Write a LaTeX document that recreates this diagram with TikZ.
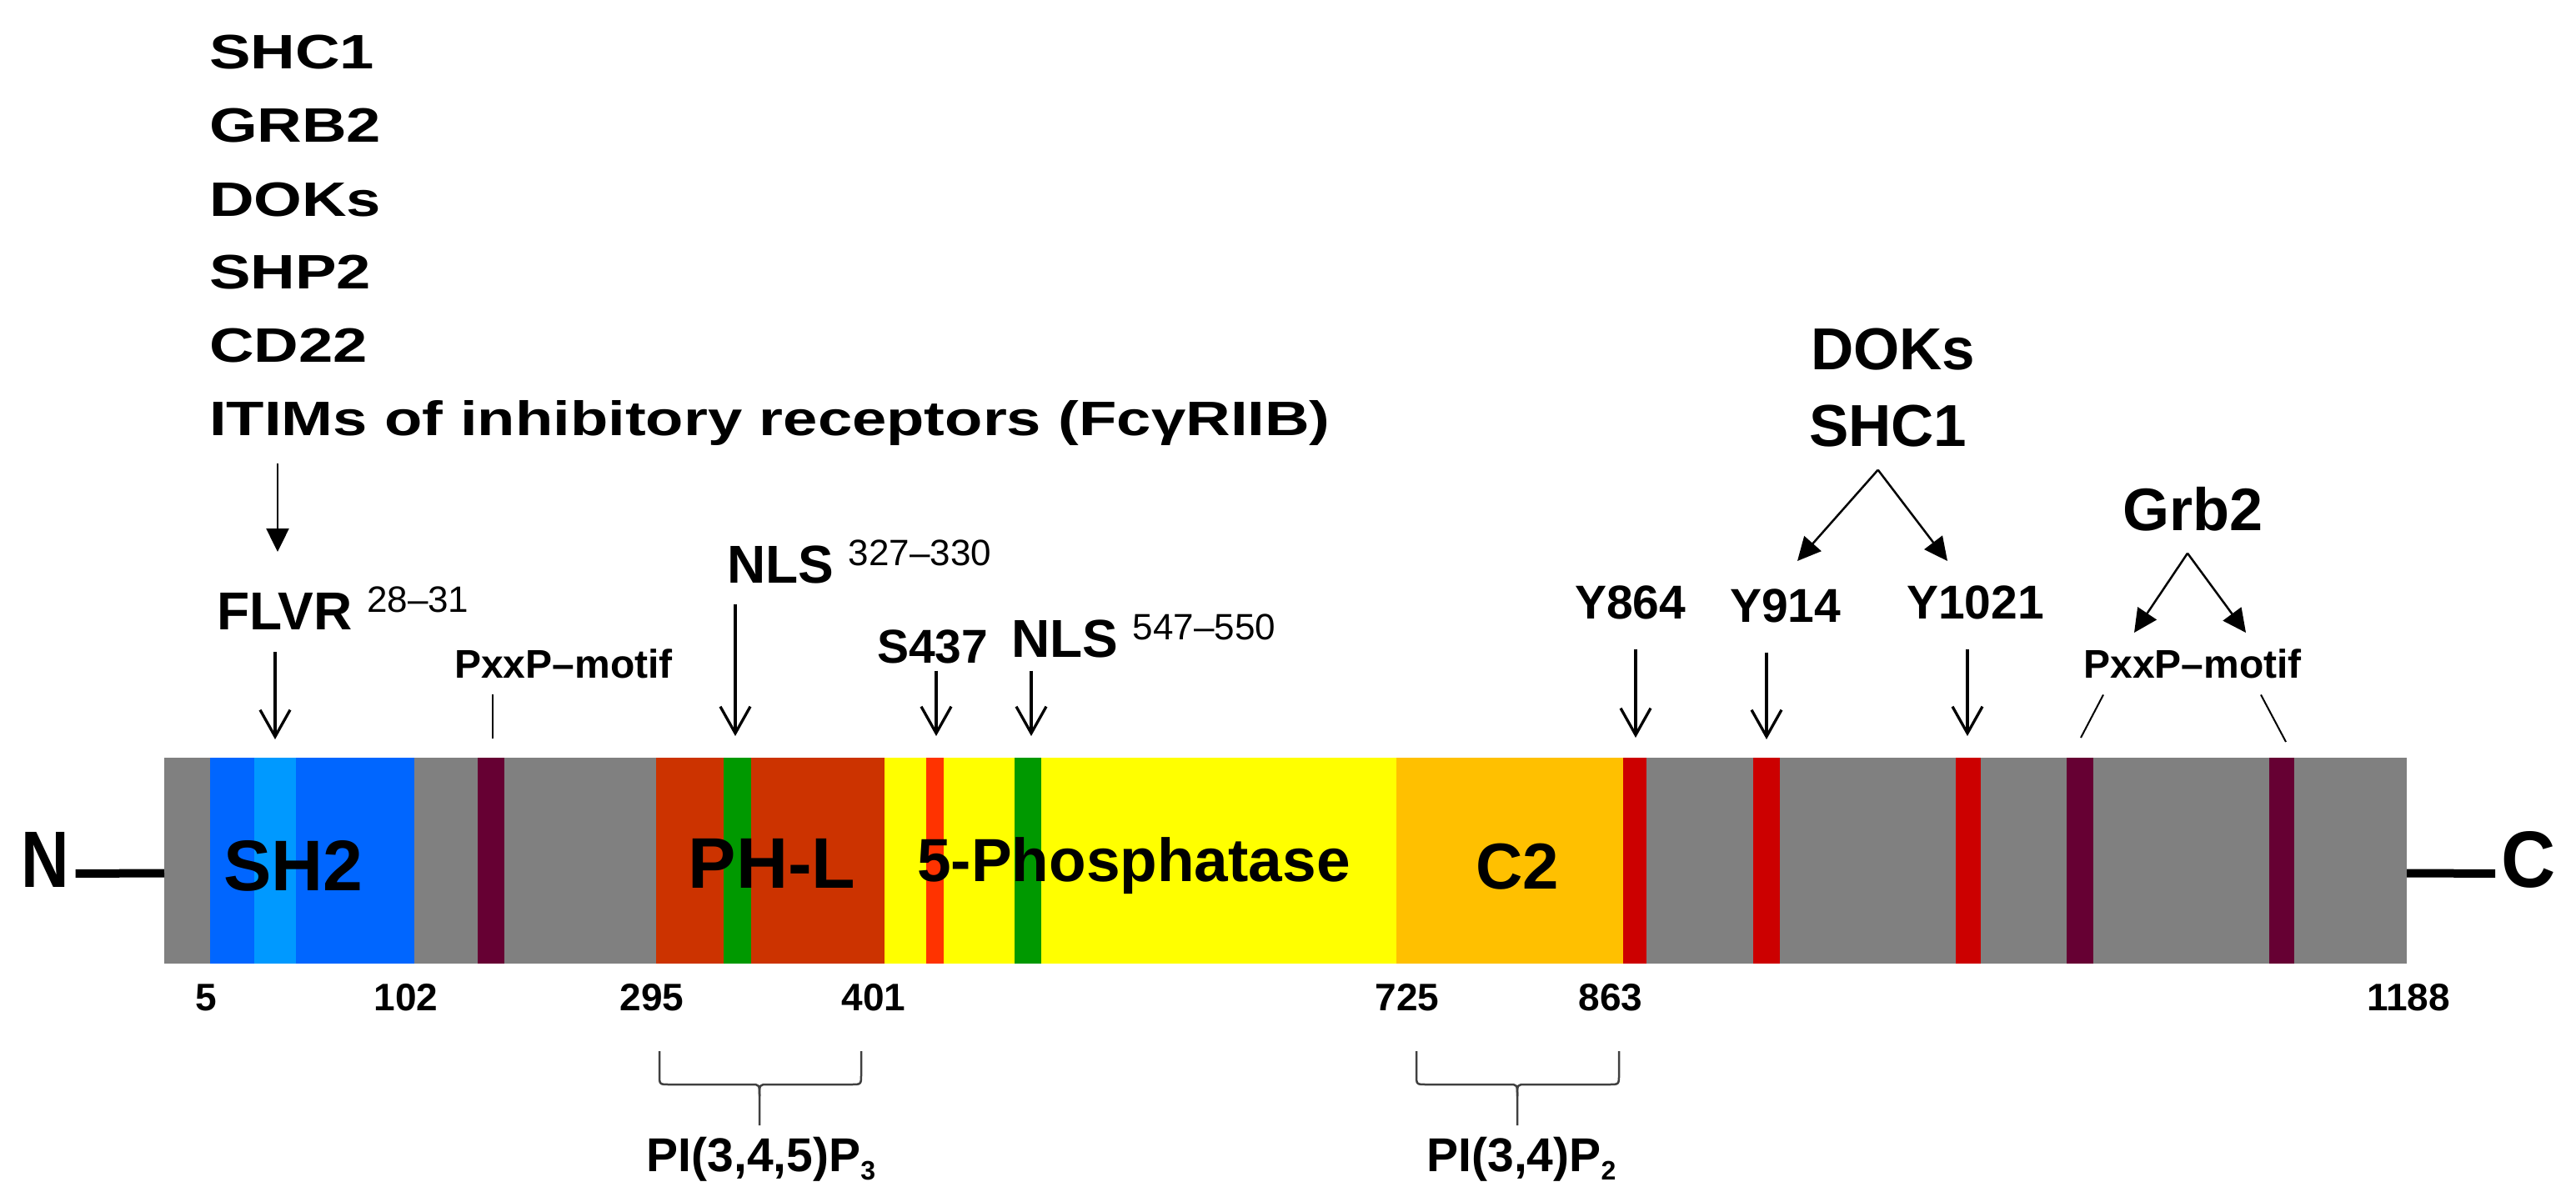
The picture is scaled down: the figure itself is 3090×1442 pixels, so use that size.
\documentclass[tikz,border=0pt]{standalone}
\usepackage{fontspec}
\setmainfont{Liberation Sans}
\usetikzlibrary{arrows.meta}
\newcommand\fsz[1]{\fontsize{#1}{#1}\selectfont}
\newcommand\supnum[1]{\raisebox{21pt}{\fsz{44}\mdseries #1}}
\definecolor{pgray}{HTML}{808080}
\definecolor{sblue}{HTML}{0066FF}
\definecolor{lblue}{HTML}{0099FF}
\definecolor{ppurple}{HTML}{660033}
\definecolor{phred}{HTML}{CC3300}
\definecolor{pgreen}{HTML}{009900}
\definecolor{pyellow}{HTML}{FFFF00}
\definecolor{ored}{HTML}{FF3300}
\definecolor{corange}{HTML}{FFC000}
\definecolor{yred}{HTML}{CC0000}
\begin{document}
\begin{tikzpicture}[x=1pt,y=-1pt,
  lbl/.style={inner sep=0pt, outer sep=0pt},
  darr/.style={line width=3.3pt, -{Straight Barb[length=32pt,width=36pt]}},
  farr/.style={line width=2.5pt, -{Triangle[length=28pt,width=27pt]}},
  thinl/.style={line width=2pt},
  bracel/.style={line width=2.5pt, draw=black!75, line join=round},
  big/.style={lbl, anchor=base, font=\fsz{86}\bfseries},
  num/.style={lbl, anchor=base, font=\fsz{46}\bfseries},
  listl/.style={lbl, anchor=base west, font=\fsz{58}\bfseries},
  site/.style={lbl, anchor=base west, font=\fsz{64}\bfseries},
  res/.style={lbl, anchor=base west, font=\fsz{57}\bfseries},
  motif/.style={lbl, anchor=base, font=\fsz{48}\bfseries},
  partner/.style={lbl, anchor=base west, font=\fsz{71}\bfseries},
]
\useasboundingbox (0,0) rectangle (3090,1442);
\fill[white] (0,0) rectangle (3090,1442);

% ---------- protein bar ----------
\fill[pgray] (197,909) rectangle (2887,1156);
\fill[sblue] (252,909) rectangle (497,1156);
\fill[lblue] (305,909) rectangle (355,1156);
\fill[ppurple] (573,909) rectangle (605,1156);
\fill[phred] (787,909) rectangle (1061,1156);
\fill[pgreen] (868,909) rectangle (901,1156);
\fill[pyellow] (1061,909) rectangle (1675,1156);
\fill[ored] (1111,909) rectangle (1132,1156);
\fill[pgreen] (1217,909) rectangle (1249,1156);
\fill[corange] (1675,909) rectangle (1947,1156);
\fill[yred] (1947,909) rectangle (1975,1156);
\fill[yred] (2103,909) rectangle (2135,1156);
\fill[yred] (2346,909) rectangle (2376,1156);
\fill[ppurple] (2479,909) rectangle (2511,1156);
\fill[ppurple] (2722,909) rectangle (2752,1156);
\node[lbl, minimum width=2690pt, minimum height=247pt, anchor=north west] (bar) at (197,909) {};

% ---------- domain labels ----------
\node[big] (sh2) at (352,1068) {SH2};
\node[big] (phl) at (926,1065) {PH-L};
\node[big, font=\fsz{73}\bfseries] (ptase) at (1360,1057) {5-Phosphatase};
\node[big, font=\fsz{78}\bfseries] (c2) at (1820,1066) {C2};

% ---------- termini ----------
\node[lbl, anchor=base west, font=\fsz{96}\bfseries] (nterm) at (25,1064) {\scalebox{0.83}[1]{N}};
\node[lbl, anchor=base west, font=\fsz{96}\bfseries] (cterm) at (3000,1064) {\scalebox{0.94}[1]{C}};
\draw[line width=10pt] ([xshift=8pt,yshift=-17pt]nterm.east) -- ([yshift=-15pt]bar.west);
\draw[line width=10pt] ([yshift=-15pt]bar.east) -- ([xshift=-7pt,yshift=-17pt]cterm.west);

% ---------- residue numbers ----------
\node[num] (n5) at (247,1212) {5};
\node[num] (n102) at (487,1212) {102};
\node[num] (n295) at (782,1212) {295};
\node[num] (n401) at (1048,1212) {401};
\node[num] (n725) at (1688,1212) {725};
\node[num] (n863) at (1932,1212) {863};
\node[num] (n1188) at (2889,1212) {1188};

% ---------- braces ----------
\draw[bracel] (791,1261) -- (791,1289) .. controls (791,1301) .. (803,1301) -- (901,1301) .. controls (911,1301) .. (911,1315) -- (911,1350);
\draw[bracel] (1033,1261) -- (1033,1289) .. controls (1033,1301) .. (1021,1301) -- (921,1301) .. controls (911,1301) .. (911,1315);
\draw[bracel] (1699,1261) -- (1699,1289) .. controls (1699,1301) .. (1711,1301) -- (1810,1301) .. controls (1820,1301) .. (1820,1315) -- (1820,1350);
\draw[bracel] (1942,1261) -- (1942,1289) .. controls (1942,1301) .. (1930,1301) -- (1830,1301) .. controls (1820,1301) .. (1820,1315);
\node[lbl, anchor=base, font=\fsz{57}\bfseries] (pip3) at (913,1405) {PI(3,4,5)P\raisebox{-10pt}{\fsz{32}3}};
\node[lbl, anchor=base, font=\fsz{57}\bfseries] (pip2) at (1825,1405) {PI(3,4)P\raisebox{-10pt}{\fsz{32}2}};

% ---------- SH2 binding partners ----------
\node[listl] (l1) at (251,83) {\scalebox{1.28}[1]{SHC1}};
\node[listl] (l2) at (251,171) {\scalebox{1.28}[1]{GRB2}};
\node[listl] (l3) at (251,259) {\scalebox{1.28}[1]{DOKs}};
\node[listl] (l4) at (251,346) {\scalebox{1.28}[1]{SHP2}};
\node[listl] (l5) at (251,434) {\scalebox{1.28}[1]{CD22}};
\node[listl] (l6) at (251,522) {\scalebox{1.28}[1]{ITIMs of inhibitory receptors (FcγRIIB)}};
\coordinate (itimTip) at (333,662);
\draw[farr, shorten <=22pt] (l6.south -| itimTip) -- (itimTip);

% ---------- site labels with arrows ----------
\node[site] (flvr) at (260,755) {FLVR \supnum{28\textendash31}};
\coordinate (flvrTip) at (330,887);
\draw[darr, shorten <=27pt] (flvr.south -| flvrTip) -- (flvrTip);

\node[motif] (pxl) at (676,813) {PxxP\textendash motif};
\coordinate (pxlTip) at (591,886);
\draw[thinl, shorten <=20pt] (pxl.south -| pxlTip) -- (pxlTip);

\node[site] (nls1) at (872,699) {NLS \supnum{327\textendash330}};
\coordinate (nls1Tip) at (882,883);
\draw[darr, shorten <=25pt] (nls1.south -| nls1Tip) -- (nls1Tip);

\node[res] (s437) at (1052,795) {S437};
\coordinate (s437Tip) at (1123,883);
\draw[darr, shorten <=9pt] (s437.south -| s437Tip) -- (s437Tip);

\node[site] (nls2) at (1213,788) {NLS \supnum{547\textendash550}};
\coordinate (nls2Tip) at (1237,883);
\draw[darr, shorten <=16pt] (nls2.south -| nls2Tip) -- (nls2Tip);

\node[res] (y864) at (1889,742) {Y864};
\coordinate (y864Tip) at (1962,885);
\draw[darr, shorten <=36pt] (y864.south -| y864Tip) -- (y864Tip);

\node[res] (y914) at (2075,746) {Y914};
\coordinate (y914Tip) at (2119,887);
\draw[darr, shorten <=36pt] (y914.south -| y914Tip) -- (y914Tip);

\node[res] (y1021) at (2287,742) {Y1021};
\coordinate (y1021Tip) at (2360,883);
\draw[darr, shorten <=36pt] (y1021.south -| y1021Tip) -- (y1021Tip);

% ---------- DOKs / SHC1 ----------
\node[partner] (doks) at (2172,443) {DOKs};
\node[partner] (shc1r) at (2170,535) {SHC1};
\coordinate (dTipL) at (2156,673);
\coordinate (dTipR) at (2336,673);
\draw[farr] ([xshift=-12pt,yshift=-28pt]shc1r.south) -- (dTipL);
\draw[farr] ([xshift=-12pt,yshift=-28pt]shc1r.south) -- (dTipR);

% ---------- Grb2 / PxxP ----------
\node[partner, anchor=base, font=\fsz{72}\bfseries] (grb) at (2630,636) {Grb2};
\node[motif] (pxr) at (2630,813) {PxxP\textendash motif};
\coordinate (gTipL) at (2560,759);
\coordinate (gTipR) at (2694,759);
\draw[farr] ([xshift=-6pt,yshift=-27pt]grb.south) -- (gTipL);
\draw[farr] ([xshift=-6pt,yshift=-27pt]grb.south) -- (gTipR);
\coordinate (pxrL) at (2496,885);
\coordinate (pxrR) at (2742,890);
\draw[thinl] ([xshift=-107pt,yshift=-20pt]pxr.south) -- (pxrL);
\draw[thinl] ([xshift=82pt,yshift=-20pt]pxr.south) -- (pxrR);
\end{tikzpicture}
\end{document}
